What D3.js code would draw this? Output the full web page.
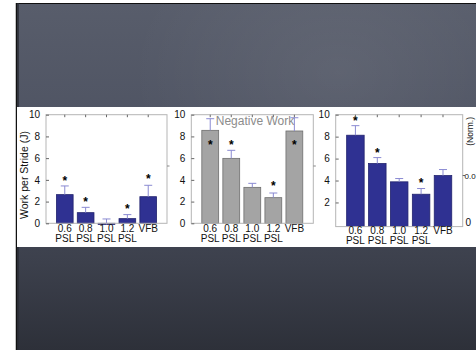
<!DOCTYPE html>
<html>
<head>
<meta charset="utf-8">
<script src="https://cdn.jsdelivr.net/npm/d3@7"></script>
<style>
  html, body { margin: 0; padding: 0; background: #fff; }
  svg { display: block; }
  text { font-family: "Liberation Sans", Arial, Helvetica, sans-serif; }
</style>
</head>
<body>
<div id="chart"></div>
<script>
// categories shared by all three panels
const categories = [['0.6', 'PSL'], ['0.8', 'PSL'], ['1.0', 'PSL'], ['1.2', 'PSL'], ['VFB']];
const yTicks = [0, 2, 4, 6, 8, 10];

// net work (left panel)
const netWork = [2.64, 0.98, -0.1, 0.43, 2.45];
const netErrTop = [3.44, 1.47, 0.4, 0.8, 3.5];
const netStars = [4.2, 2.2, null, 1.6, 4.35];

// negative work (middle panel)
const negWork = [8.56, 5.98, 3.31, 2.36, 8.5];
const negErrTop = [9.63, 6.72, 3.68, 2.79, 9.72];
const negStars = [7.5, 7.48, null, 3.68, 7.5];

// positive work (right panel)
const posWork = [8.13, 5.55, 3.88, 2.75, 4.45];
const posErrTop = [9.0, 6.09, 4.18, 3.27, 5.0];
const posStars = [9.74, 6.82, null, 4.03, null];

const W = 476, H = 350;
const svg = d3.select('#chart').append('svg').attr('width', W).attr('height', H);

// slide background
const defs = svg.append('defs');
const bg = defs.append('linearGradient').attr('id', 'slideBg')
  .attr('x1', '0%').attr('y1', '0%').attr('x2', '0%').attr('y2', '100%');
bg.append('stop').attr('offset', '0%').attr('stop-color', '#585d6b');
bg.append('stop').attr('offset', '35%').attr('stop-color', '#4f5463');
bg.append('stop').attr('offset', '75%').attr('stop-color', '#3c404c');
bg.append('stop').attr('offset', '100%').attr('stop-color', '#2d3039');

const hl = defs.append('radialGradient').attr('id', 'slideHl')
  .attr('cx', '70%').attr('cy', '20%').attr('r', '45%');
hl.append('stop').attr('offset', '0%').attr('stop-color', '#ffffff').attr('stop-opacity', 0.07);
hl.append('stop').attr('offset', '100%').attr('stop-color', '#ffffff').attr('stop-opacity', 0);

svg.append('rect').attr('x', 16).attr('y', 3).attr('width', W - 16).attr('height', H - 3)
  .attr('fill', 'url(#slideBg)');
svg.append('rect').attr('x', 16).attr('y', 3).attr('width', W - 16).attr('height', H - 3)
  .attr('fill', 'url(#slideHl)');
svg.append('line').attr('x1', 16).attr('x2', W).attr('y1', 3.5).attr('y2', 3.5)
  .attr('stroke', '#111').attr('stroke-width', 1.2);
svg.append('line').attr('x1', 16.5).attr('x2', 16.5).attr('y1', 3).attr('y2', H)
  .attr('stroke', '#111').attr('stroke-width', 1.5);
svg.append('line').attr('x1', 18).attr('x2', 18).attr('y1', 3).attr('y2', H)
  .attr('stroke', '#2a2d35').attr('stroke-width', 1.5);

// white band holding the figure
svg.append('rect').attr('x', 17).attr('y', 107).attr('width', W - 17).attr('height', 140)
  .attr('fill', '#ffffff');

const yTop = 114.7, yZero = 223.3;

function drawPanel(opt) {
  const g = svg.append('g');
  const x = d3.scaleLinear().domain([0.1, 5.9]).range([opt.left, opt.right]);
  const y = d3.scaleLinear().domain([0, 10]).range([opt.zero, yTop]);
  const bw = x(0.9) - x(0.1);
  const base = opt.base == null ? 0 : opt.base;
  const labelY = opt.labelY || 231.5;

  // bars
  g.selectAll('rect.bar').data(opt.values).enter().append('rect')
    .attr('x', (d, i) => x(i + 1) - bw / 2)
    .attr('width', bw)
    .attr('y', d => Math.min(y(d), y(base)))
    .attr('height', d => Math.abs(y(base) - y(d)))
    .attr('fill', opt.fill)
    .attr('stroke', opt.stroke)
    .attr('stroke-width', 0.8);

  // error bars
  const eb = g.selectAll('g.err').data(opt.errTop).enter().append('g');
  eb.append('line')
    .attr('x1', (d, i) => x(i + 1)).attr('x2', (d, i) => x(i + 1))
    .attr('y1', (d, i) => y(opt.values[i])).attr('y2', d => y(d))
    .attr('stroke', '#8a8ad2').attr('stroke-width', 1);
  eb.append('line')
    .attr('x1', (d, i) => x(i + 1) - 4).attr('x2', (d, i) => x(i + 1) + 4)
    .attr('y1', d => y(d)).attr('y2', d => y(d))
    .attr('stroke', '#8a8ad2').attr('stroke-width', 1);

  // significance stars
  const stars = opt.stars.map((v, i) => ({ v, i })).filter(d => d.v != null);
  g.selectAll('text.star').data(stars).enter().append('text')
    .attr('x', d => x(d.i + 1))
    .attr('y', d => y(d.v) + 7)
    .attr('text-anchor', 'middle')
    .attr('font-size', 12).attr('font-weight', 'bold').attr('fill', '#000')
    .text('*');

  // box
  g.append('rect').attr('x', opt.left).attr('y', yTop)
    .attr('width', opt.right - opt.left).attr('height', y(base) - yTop)
    .attr('fill', 'none').attr('stroke', '#b5b5b5').attr('stroke-width', 1);

  // left axis
  const ax = g.append('g').attr('transform', `translate(${opt.left},0)`)
    .call(d3.axisLeft(y).tickValues(opt.yTicks).tickSize(-3).tickPadding(6).tickFormat(d3.format('d')));
  ax.select('.domain').remove();
  ax.selectAll('.tick line').attr('stroke', '#666');
  ax.selectAll('.tick text').attr('font-size', 10).attr('fill', '#111')
    .attr('font-family', '"Liberation Sans", Arial, sans-serif');

  // top ticks at bar centres
  g.selectAll('line.top').data(categories).enter().append('line')
    .attr('x1', (d, i) => x(i + 1)).attr('x2', (d, i) => x(i + 1))
    .attr('y1', yTop).attr('y2', yTop + 2.5)
    .attr('stroke', '#666');

  // category labels, two lines each
  const lines = [];
  categories.forEach((c, i) => c.forEach((s, j) => lines.push({ s, i, j })));
  g.selectAll('text.cat').data(lines).enter().append('text')
    .attr('x', d => x(d.i + 1))
    .attr('y', d => labelY + d.j * 10)
    .attr('text-anchor', 'middle').attr('font-size', 10).attr('fill', '#111')
    .text(d => d.s);

  return { g, x, y };
}

drawPanel({ left: 46, right: 167, zero: yZero, values: netWork, errTop: netErrTop,
  stars: netStars, fill: '#2f3192', stroke: '#22236e', yTicks: yTicks });
drawPanel({ left: 191.3, right: 313.3, zero: yZero, values: negWork, errTop: negErrTop,
  stars: negStars, fill: '#a4a4a4', stroke: '#6e6e6e', yTicks: yTicks });
drawPanel({ left: 335.7, right: 462.7, zero: 224.4, base: -0.2, values: posWork, errTop: posErrTop,
  stars: posStars, fill: '#2f3192', stroke: '#22236e', yTicks: [2, 4, 6, 8, 10], labelY: 233.5 });

// y label
svg.append('text')
  .attr('transform', 'translate(28,175) rotate(-90)')
  .attr('text-anchor', 'middle').attr('font-size', 10.5).attr('fill', '#111')
  .text('Work per Stride (J)');

// middle panel title
svg.append('text').attr('x', 255).attr('y', 124.5)
  .attr('text-anchor', 'middle').attr('font-size', 12).attr('fill', '#8c8c8c')
  .text('Negative Work');

// right-axis stubs
[167, 313.3].forEach(xr => {
  svg.append('line').attr('x1', xr).attr('x2', xr + 2.5)
    .attr('y1', 166).attr('y2', 166).attr('stroke', '#888');
});
svg.append('line').attr('x1', 462.7).attr('x2', 465).attr('y1', 175.5).attr('y2', 175.5).attr('stroke', '#666');
svg.append('text').attr('x', 464.6).attr('y', 178.5).attr('font-size', 8).attr('fill', '#111').text('0.0');
svg.append('text').attr('x', 465.5).attr('y', 226).attr('font-size', 10).attr('fill', '#111').text('0');
svg.append('text')
  .attr('transform', 'translate(473,117) rotate(-90)')
  .attr('text-anchor', 'end').attr('font-size', 8.5).attr('fill', '#111')
  .text('(Norm.)');
</script>
</body>
</html>
